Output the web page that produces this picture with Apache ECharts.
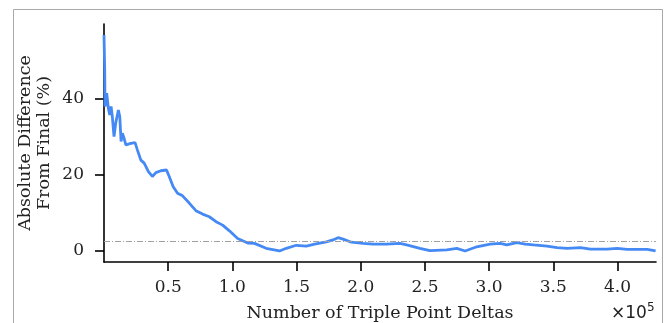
<!DOCTYPE html>
<html><head><meta charset="utf-8">
<script src="https://cdn.jsdelivr.net/npm/echarts@6/dist/echarts.min.js"></script>
<style>html,body{margin:0;padding:0;background:#fff}#c{width:664px;height:323px}</style>
</head><body><div id="c"></div>
<script>
// Number of triple point deltas (raw count)
const deltas = [0, 550, 780, 2100, 3400, 4500, 5500, 6500, 7800, 9100, 11200, 12300, 13300, 14300, 15600, 17000, 20900, 24200, 26000, 28700, 31300, 34600, 37700, 40400, 44300, 48700, 50800, 53900, 57300, 61200, 66400, 71600, 76800, 82000, 87300, 92400, 97700, 104100, 112000, 117200, 126300, 136700, 142000, 149800, 157600, 164100, 173200, 178400, 182300, 186200, 192700, 201800, 209600, 220100, 230500, 235700, 246100, 253900, 267000, 274800, 281300, 290400, 300800, 308600, 313800, 321600, 328100, 334600, 345100, 352900, 360700, 371100, 378900, 391900, 399800, 407600, 423200, 429700];
// Absolute difference from final (%)
const diffPct = [56.8, 47.6, 38.0, 41.5, 37.5, 35.8, 38.0, 35.3, 30.1, 33.6, 37.1, 35.3, 28.8, 31.0, 29.7, 27.9, 28.3, 28.5, 26.6, 23.9, 23.1, 20.9, 19.6, 20.6, 21.1, 21.3, 19.6, 16.9, 15.2, 14.5, 12.6, 10.6, 9.7, 9.0, 7.7, 6.8, 5.3, 3.3, 2.1, 2.0, 0.7, 0.0, 0.7, 1.5, 1.3, 1.8, 2.4, 2.9, 3.5, 3.1, 2.3, 2.0, 1.8, 1.8, 2.0, 1.6, 0.7, 0.1, 0.3, 0.7, 0.0, 1.1, 1.8, 2.0, 1.6, 2.2, 1.8, 1.6, 1.3, 0.9, 0.7, 0.9, 0.5, 0.5, 0.7, 0.4, 0.4, 0.0];
const threshold = 2.5;
const xTicks = [50000, 100000, 150000, 200000, 250000, 300000, 350000, 400000];
const yTicks = [0, 20, 40];

const FONT = 'DejaVu Serif';
const chart = echarts.init(document.getElementById('c'), null, {renderer: 'canvas'});
chart.setOption({
  animation: false,
  backgroundColor: '#fff',
  grid: {left: 104, right: 8, top: 24, bottom: 61, outerBoundsMode: 'none', containLabel: false},
  graphic: [
    {type: 'rect', left: 11, top: 7, shape: {width: 649, height: 340},
     style: {fill: 'none', stroke: '#a8a8a8', lineWidth: 1}, z: -10, silent: true},
    {type: 'text', left: 611, top: 302,
     style: {text: '×10{s|5}', fontFamily: 'DejaVu Sans', fontSize: 17, fill: '#222',
       rich: {s: {fontSize: 12, verticalAlign: 'top', padding: [0, 0, 11, 0], fontFamily: 'DejaVu Sans', fill: '#222'}}}}
  ],
  xAxis: {
    type: 'value', min: 0, max: 430000,
    name: 'Number of Triple Point Deltas', nameLocation: 'middle', nameGap: 42, nameMoveOverlap: false,
    nameTextStyle: {fontFamily: FONT, fontSize: 17.5, color: '#222'},
    splitLine: {show: false},
    axisLine: {onZero: false, lineStyle: {color: '#000', width: 1.6}},
    axisTick: {customValues: xTicks, length: 9, lineStyle: {color: '#000', width: 1.6}},
    axisLabel: {customValues: xTicks, margin: 17, fontFamily: FONT, fontSize: 17, color: '#222',
      formatter: v => (v / 1e5).toFixed(1)}
  },
  yAxis: {
    type: 'value', min: -2.9, max: 59.7,
    name: 'Absolute Difference\nFrom Final (%)', nameLocation: 'middle', nameRotate: 90, nameGap: 50, nameMoveOverlap: false,
    nameTextStyle: {fontFamily: FONT, fontSize: 17.5, color: '#222', lineHeight: 19},
    splitLine: {show: false},
    axisLine: {show: true, onZero: false, lineStyle: {color: '#000', width: 1.6}},
    axisTick: {show: true, customValues: yTicks, length: 9, lineStyle: {color: '#000', width: 1.6}},
    axisLabel: {customValues: yTicks, margin: 20, fontFamily: FONT, fontSize: 17, color: '#222'}
  },
  series: [{
    type: 'line',
    data: deltas.map((d, i) => [d, diffPct[i]]),
    showSymbol: false,
    lineStyle: {color: '#4589f5', width: 2.8},
    itemStyle: {color: '#4589f5'},
    markLine: {
      silent: true, symbol: 'none', label: {show: false},
      lineStyle: {color: '#a0a0a0', width: 1, type: [6, 2, 1, 2]},
      data: [{yAxis: threshold}]
    },
    z: 3
  }]
});
</script></body></html>
